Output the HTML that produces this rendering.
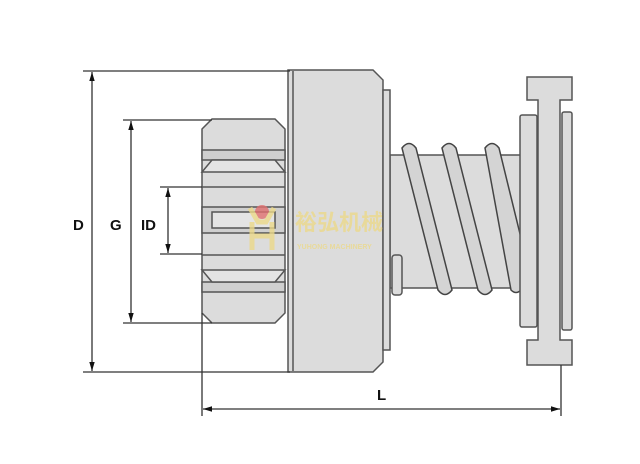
<!DOCTYPE html>
<html><head><meta charset="utf-8"><style>
html,body{margin:0;padding:0;background:#fff;}
svg{display:block;}
text{font-family:"Liberation Sans","Noto Sans CJK SC",sans-serif;}
</style></head><body>
<svg width="640" height="464" viewBox="0 0 640 464" xmlns="http://www.w3.org/2000/svg">
<defs>
<marker id="a" viewBox="0 0 10 10" refX="10" refY="5" markerWidth="7" markerHeight="7" orient="auto-start-reverse"><path d="M0,2 L10,5 L0,8 z" fill="#111"/></marker>
</defs>
<g stroke="#555" stroke-width="1.5" fill="#dcdcdc">
<rect x="390" y="155" width="131" height="133" />
<g fill="#d4d4d4" stroke="#444" stroke-width="1.5">
<path d="M402,148 q7,-9 14,0 l36,142 q-7,9 -14,0 z"/>
<path d="M442,148 q7,-9 14,0 l36,142 q-7,9 -14,0 z"/>
<path d="M485,148 q7,-9 14,0 l22,90 l0,52 q-5,5 -10,0 z"/>
</g>
<rect x="392" y="255" width="10" height="40" rx="3"/>
<path d="M288,70 L373,70 L383,80 L383,362 L373,372 L288,372 Z"/>
<line x1="293" y1="71" x2="293" y2="371"/>
<rect x="383" y="90" width="7" height="260"/>
<path d="M212,119 L275,119 L285,129 L285,313 L275,323 L212,323 L202,313 L202,129 Z"/>
<g fill="#cfcfcf">
<path d="M202,150 L285,150 L285,160 L202,160 Z"/>
<path d="M212,160 L275,160 L285,172 L202,172 Z" fill="#e4e4e4"/>
<path d="M202,207 L285,207 L285,233 L202,233 Z"/>
<path d="M212,212 L275,212 L275,228 L212,228 Z" fill="#e4e4e4"/>
<path d="M202,282 L285,282 L285,292 L202,292 Z"/>
<path d="M202,270 L285,270 L275,282 L212,282 Z" fill="#e4e4e4"/>
</g>
<line x1="202" y1="187" x2="285" y2="187"/>
<line x1="202" y1="255" x2="285" y2="255"/>
<rect x="520" y="115" width="17" height="212" rx="2"/>
<path d="M527,77 L572,77 L572,100 L560,100 L560,340 L572,340 L572,365 L527,365 L527,340 L538,340 L538,100 L527,100 Z"/>
<rect x="562" y="112" width="10" height="218" rx="2"/>
</g>
<g stroke="#333" stroke-width="1.3" fill="none">
<line x1="83" y1="71" x2="290" y2="71"/>
<line x1="83" y1="372" x2="290" y2="372"/>
<line x1="92" y1="72" x2="92" y2="371" marker-start="url(#a)" marker-end="url(#a)"/>
<line x1="123" y1="120" x2="212" y2="120"/>
<line x1="123" y1="323" x2="212" y2="323"/>
<line x1="131" y1="121" x2="131" y2="322" marker-start="url(#a)" marker-end="url(#a)"/>
<line x1="160" y1="187" x2="202" y2="187"/>
<line x1="160" y1="254" x2="202" y2="254"/>
<line x1="168" y1="188" x2="168" y2="253" marker-start="url(#a)" marker-end="url(#a)"/>
<line x1="202" y1="313" x2="202" y2="416"/>
<line x1="561" y1="365" x2="561" y2="416"/>
<line x1="203" y1="409" x2="560" y2="409" marker-start="url(#a)" marker-end="url(#a)"/>
</g>
<g font-size="15" font-weight="bold" fill="#111">
<text x="73" y="230">D</text>
<text x="110" y="230">G</text>
<text x="141" y="230">ID</text>
<text x="377" y="400">L</text>
</g>
<g opacity="0.8">
<circle cx="262" cy="212" r="7" fill="#e07070"/>
<path d="M250,208 L258,222 L266,222 L274,208" stroke="#ecd98a" stroke-width="5" fill="none"/>
<path d="M252,222 L252,250 M272,222 L272,250 M252,236 L272,236" stroke="#ecd98a" stroke-width="5" fill="none"/>
<text x="295" y="230" font-size="22" font-weight="bold" fill="#ecd98a">裕弘机械</text>
<text x="297" y="249" font-size="7" font-weight="bold" fill="#ecd98a">YUHONG MACHINERY</text>
</g>
</svg>
</body></html>
